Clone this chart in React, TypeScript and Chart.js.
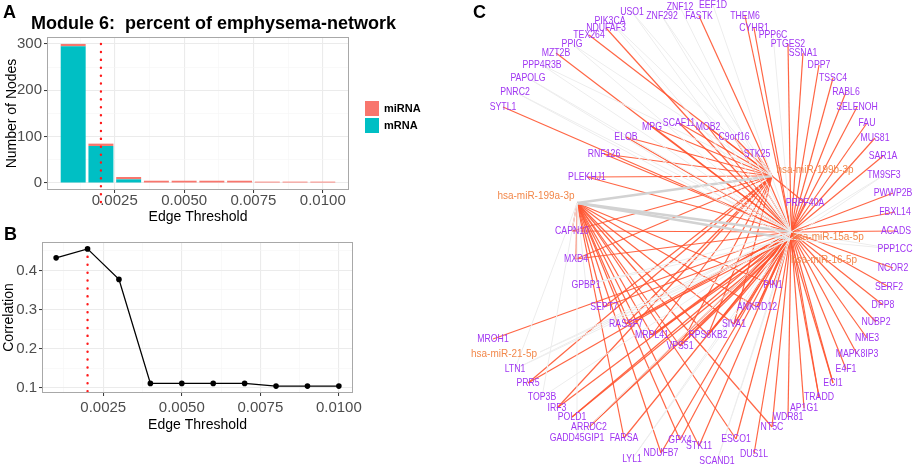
import React, { useEffect, useRef } from 'react';
import { Chart, registerables } from 'chart.js';
Chart.register(...registerables);

const FONT = "'Liberation Sans', Arial, Helvetica, sans-serif";

// ---------- Panels A & B data ----------
const thresholds = [0.001, 0.002, 0.003, 0.004, 0.005, 0.006, 0.007, 0.008, 0.009, 0.01];
const mRNANodes = [295, 80, 8, 0, 0, 0, 0, 0, 0, 0];
const miRNANodes = [5, 5, 5, 5, 5, 5, 5, 3, 3, 3];
const correlation = [0.432, 0.455, 0.377, 0.111, 0.111, 0.111, 0.111, 0.104, 0.104, 0.104];
const chosenThreshold = 0.002;
const titleText = 'Module 6:  percent of emphysema-network';
const xMajorTicks = [0.0025, 0.005, 0.0075, 0.01];
const xTickLabels = ['0.0025', '0.0050', '0.0075', '0.0100'];
const xMinorTicks = [0.00125, 0.00375, 0.00625, 0.00875];
const nodesMajorTicks = [0, 100, 200, 300];
const nodesMinorTicks = [50, 150, 250];
const corrMajorTicks = [0.1, 0.2, 0.3, 0.4];
const corrMinorTicks = [0.15, 0.25, 0.35, 0.45];

// ---------- Panel C network data (layout coordinates) ----------
const geneNames = ['SYTL1','PNRC2','PAPOLG','PPP4R3B','MZT2B','PPIG','TEX264','NDUFAF3','PIK3CA','USO1','ZNF292','ZNF12','EEF1D','FASTK','THEM6','CYHR1','PPP6C','PTGES2','SSNA1','DPP7','TSSC4','RABL6','SELENOH','FAU','MUS81','SAR1A','TM9SF3','PWWP2B','FBXL14','ACADS','PPP1CC','NCOR2','SERF2','DPP8','NUBP2','NME3','MAPK8IP3','E4F1','ECI1','TRADD','AP1G1','WDR81','NT5C','DUS1L','ESCO1','SCAND1','STK11','GPX4','NDUFB7','LYL1','FARSA','GADD45GIP1','ARRDC2','POLD1','IRF3','TOP3B','PRR5','LTN1','MROH1','MPG','SCAF11','MOB2','ELOB','C9orf16','RNF126','STK25','PLEKHJ1','PRPF40A','CAPN10','MXD4','GPBP1','PIN1','SEPT7','ANKRD12','RASSF7','SIVA1','MRPL41','RPS6KB2','VPS51'];
const geneX = [63,75,88,102,116,132,149,166,170,192,222,240,273,259,305,314,333,348,363,379,393,406,417,427,435,443,444,453,455,456,455,453,449,443,436,427,417,406,393,379,364,348,332,314,296,277,259,240,221,192,184,137,149,132,117,102,88,75,53,212,239,268,186,294,164,317,147,365,132,136,146,333,164,317,186,294,212,268,240];
const geneY = [107,92,78,65,53,44,35,28,21,12,16,7,5,16,16,28,35,44,53,65,78,92,107,123,138,156,175,193,212,231,249,268,287,305,322,338,354,369,383,397,408,417,427,454,439,461,446,440,453,459,438,438,427,417,408,397,383,369,339,127,123,127,137,137,154,154,177,203,231,259,285,285,307,307,324,324,335,335,346];
const hubNames = ['hsa-miR-15a-5p', 'hsa-miR-16-5p', 'hsa-miR-199b-3p', 'hsa-miR-199a-3p', 'hsa-miR-21-5p'];
const hubX = [351, 350, 332, 137, 100];
const hubY = [232, 239, 176, 203, 352];
const hubLabelX = [388, 384, 375, 96, 64];
const hubLabelY = [237, 260, 170, 196, 354];

const miR15aTargets = ['SYTL1','MZT2B','NDUFAF3','THEM6','CYHR1','PTGES2','SSNA1','DPP7','TSSC4','RABL6','SELENOH','FAU','MUS81','SAR1A','PWWP2B','FBXL14','ACADS','NCOR2','SERF2','DPP8','NUBP2','NME3','MAPK8IP3','E4F1','ECI1','TRADD','AP1G1','WDR81','NT5C','DUS1L','ESCO1','STK11','GPX4','NDUFB7','FARSA','ARRDC2','POLD1','IRF3','PRR5','MROH1','MPG','SCAF11','MOB2','ELOB','C9orf16','RNF126','STK25','PLEKHJ1','PRPF40A','CAPN10','MXD4','RASSF7','MRPL41','VPS51','RPS6KB2','SIVA1','ANKRD12','PIN1'];
const miR16Targets = ['SIVA1','RPS6KB2','VPS51','MRPL41','RASSF7','ANKRD12','PIN1','SEPT7','ARRDC2','POLD1','TRADD','ECI1'];
const miR199bTargets = ['FASTK','TEX264','MPG','SCAF11','MOB2','ELOB','C9orf16','RNF126','STK25','PLEKHJ1','PRPF40A','MXD4','SEPT7','RASSF7','MRPL41','VPS51','RPS6KB2','SIVA1','CAPN10','PRR5','IRF3'];
const miR199aTargets = ['MXD4','CAPN10','SEPT7','RASSF7','MRPL41','VPS51','RPS6KB2','SIVA1','ANKRD12','PIN1','GPX4','STK11','NDUFB7','FARSA','ESCO1','NT5C'];
const weak15aTargets = ['PNRC2','PAPOLG','PPP4R3B','PPIG','PIK3CA','USO1','ZNF292','ZNF12','EEF1D','PPP6C','TM9SF3','PPP1CC','SCAND1','LYL1','GADD45GIP1','TOP3B','LTN1','GPBP1','hsa-miR-21-5p'];
const weak16Targets = ['PNRC2','PAPOLG','TM9SF3','PPP1CC','SCAND1','LYL1','LTN1','GPBP1','hsa-miR-21-5p'];
const weak199bTargets = ['USO1','ZNF292','PIK3CA','PPIG','PPP4R3B'];
const weak199aTargets = ['GPBP1','LTN1','TOP3B','GADD45GIP1'];
const hubLinks = [['hsa-miR-199a-3p', 'hsa-miR-199b-3p'], ['hsa-miR-199a-3p', 'hsa-miR-15a-5p'], ['hsa-miR-199a-3p', 'hsa-miR-16-5p']];

// ---------- helpers ----------
const near = (list: number[], v: number) => list.some((m) => Math.abs(m - v) < 1e-9);

function gridOpts(majors: number[]) {
  return {
    offset: false,
    color: (c: any) => (c.tick && near(majors, c.tick.value) ? '#ebebeb' : '#f5f5f5'),
    lineWidth: (c: any) => (c.tick && near(majors, c.tick.value) ? 1.1 : 0.6),
    tickColor: (c: any) => (c.tick && near(majors, c.tick.value) ? '#333333' : 'rgba(0,0,0,0)'),
    tickLength: 3,
    tickWidth: 1,
    drawTicks: true,
  };
}

const framePlugin = {
  id: 'frame',
  afterDraw(chart: any) {
    const { ctx, chartArea: a } = chart;
    ctx.save();
    ctx.strokeStyle = '#a8a8a8';
    ctx.lineWidth = 1;
    ctx.strokeRect(a.left + 0.5, a.top + 0.5, a.right - a.left - 1, a.bottom - a.top - 1);
    ctx.restore();
  },
};

function drawRedDots(ctx: any, x: number, y0: number, y1: number) {
  ctx.save();
  ctx.strokeStyle = '#ff1a1a';
  ctx.lineWidth = 2.4;
  ctx.lineCap = 'round';
  ctx.setLineDash([0.1, 7.8]);
  ctx.beginPath();
  ctx.moveTo(x, y0);
  ctx.lineTo(x, y1);
  ctx.stroke();
  ctx.restore();
}

const redLineA = {
  id: 'redLineA',
  afterDatasetsDraw(chart: any) {
    const x = chart.scales.x.getPixelForValue(chosenThreshold);
    drawRedDots(chart.ctx, x, chart.chartArea.top + 7, chart.chartArea.bottom + 14);
  },
};

const redLineB = {
  id: 'redLineB',
  beforeDatasetsDraw(chart: any) {
    const idx = thresholds.findIndex((t) => Math.abs(t - chosenThreshold) < 1e-9);
    const x = chart.scales.x.getPixelForValue(chosenThreshold);
    const y = chart.scales.y.getPixelForValue(correlation[idx]);
    drawRedDots(chart.ctx, x, y, chart.chartArea.bottom);
  },
};

const panelAText = {
  id: 'panelAText',
  afterDraw(chart: any) {
    const ctx = chart.ctx;
    ctx.save();
    ctx.fillStyle = '#000';
    ctx.font = `bold 18px ${FONT}`;
    ctx.textAlign = 'center';
    ctx.textBaseline = 'alphabetic';
    ctx.fillText(titleText, 213.5, 29);
    const items = [...chart.data.datasets].reverse();
    const lx = chart.chartArea.right + 16;
    items.forEach((ds: any, i: number) => {
      ctx.fillStyle = ds.backgroundColor;
      ctx.fillRect(lx, 101 + i * 17, 14, 15);
      ctx.fillStyle = '#000';
      ctx.font = `bold 11px ${FONT}`;
      ctx.textAlign = 'left';
      ctx.textBaseline = 'middle';
      ctx.fillText(ds.label, lx + 19, 109 + i * 17);
    });
    ctx.restore();
  },
};

function squeezedText(ctx: any, text: string, x: number, y: number, sx: number) {
  ctx.save();
  ctx.translate(x, y);
  ctx.scale(sx, 1);
  ctx.fillText(text, 0, 0);
  ctx.restore();
}

const networkLabels = {
  id: 'networkLabels',
  afterDatasetsDraw(chart: any) {
    const { ctx, scales } = chart;
    ctx.save();
    ctx.textAlign = 'center';
    ctx.textBaseline = 'middle';
    ctx.font = `10.5px ${FONT}`;
    ctx.fillStyle = '#a035f2';
    geneNames.forEach((n, i) => {
      squeezedText(ctx, n, scales.x.getPixelForValue(geneX[i]), scales.y.getPixelForValue(geneY[i]), 0.83);
    });
    ctx.font = `10.5px ${FONT}`;
    ctx.fillStyle = '#f2884b';
    hubNames.forEach((n, i) => {
      squeezedText(ctx, n, scales.x.getPixelForValue(hubLabelX[i]), scales.y.getPixelForValue(hubLabelY[i]), 0.95);
    });
    ctx.restore();
  },
};

function nodePos(name: string) {
  const gi = geneNames.indexOf(name);
  if (gi >= 0) return { x: geneX[gi], y: geneY[gi] };
  const hi = hubNames.indexOf(name);
  return { x: hubX[hi], y: hubY[hi] };
}

function edge(a: string, b: string, color: string, width: number) {
  return {
    type: 'scatter',
    data: [nodePos(a), nodePos(b)],
    showLine: true,
    borderColor: color,
    borderWidth: width,
    pointRadius: 0,
    pointHoverRadius: 0,
    fill: false,
  };
}

export default function App() {
  const refA = useRef<HTMLCanvasElement>(null);
  const refB = useRef<HTMLCanvasElement>(null);
  const refC = useRef<HTMLCanvasElement>(null);

  useEffect(() => {
    const tickFont = { family: FONT, size: 15, lineHeight: 1 };
    const titleFont = { family: FONT, size: 14 };

    const chartA = new Chart(refA.current!, {
      type: 'bar',
      data: {
        datasets: [
          { label: 'mRNA', data: thresholds.map((t, i) => ({ x: t, y: mRNANodes[i] })), backgroundColor: '#00BFC4', barPercentage: 0.9, categoryPercentage: 1, borderWidth: 0 },
          { label: 'miRNA', data: thresholds.map((t, i) => ({ x: t, y: miRNANodes[i] })), backgroundColor: '#F8766D', barPercentage: 0.9, categoryPercentage: 1, borderWidth: 0 },
        ],
      } as any,
      options: {
        responsive: false,
        animation: false,
        devicePixelRatio: 1,
        events: [],
        layout: { padding: { top: 37, right: 78, left: 0, bottom: 0 } },
        plugins: { legend: { display: false }, tooltip: { enabled: false } },
        scales: {
          x: {
            type: 'linear', min: 0.0000555, max: 0.010945, stacked: true, offset: false,
            afterBuildTicks: (s: any) => { s.ticks = [...xMinorTicks, ...xMajorTicks].sort((a, b) => a - b).map((v) => ({ value: v })); },
            afterFit: (s: any) => { s.height = 42; },
            grid: gridOpts(xMajorTicks),
            border: { display: false },
            ticks: { autoSkip: false, maxRotation: 0, padding: 0, color: '#4d4d4d', font: tickFont, callback: (v: any) => { const i = xMajorTicks.findIndex((m) => Math.abs(m - v) < 1e-9); return i >= 0 ? xTickLabels[i] : ''; } },
            title: { display: true, text: 'Edge Threshold', color: '#000', font: titleFont, padding: { top: 0, bottom: 6.6 } },
          },
          y: {
            type: 'linear', min: -15, max: 315, stacked: true,
            afterBuildTicks: (s: any) => { s.ticks = [...nodesMajorTicks, ...nodesMinorTicks].sort((a, b) => a - b).map((v) => ({ value: v })); },
            afterFit: (s: any) => { s.width = 47; },
            grid: gridOpts(nodesMajorTicks),
            border: { display: false },
            ticks: { autoSkip: false, padding: 2, color: '#4d4d4d', font: tickFont, callback: (v: any) => (near(nodesMajorTicks, v) ? String(v) : '') },
            title: { display: true, text: 'Number of Nodes', color: '#000', font: titleFont, padding: { top: 3.6, bottom: 0 } },
          },
        },
      } as any,
      plugins: [framePlugin, redLineA, panelAText],
    });

    const chartB = new Chart(refB.current!, {
      type: 'line',
      data: {
        datasets: [
          { label: 'Correlation', data: thresholds.map((t, i) => ({ x: t, y: correlation[i] })), borderColor: '#000', borderWidth: 1.3, pointRadius: 2.8, pointBackgroundColor: '#000', pointBorderWidth: 0, tension: 0, fill: false },
        ],
      } as any,
      options: {
        responsive: false,
        animation: false,
        devicePixelRatio: 1,
        events: [],
        layout: { padding: { top: 20, right: 74, left: 0, bottom: 0 } },
        plugins: { legend: { display: false }, tooltip: { enabled: false } },
        scales: {
          x: {
            type: 'linear', min: 0.00055, max: 0.01045, offset: false,
            afterBuildTicks: (s: any) => { s.ticks = [...xMinorTicks, ...xMajorTicks].sort((a, b) => a - b).map((v) => ({ value: v })); },
            afterFit: (s: any) => { s.height = 73; },
            grid: gridOpts(xMajorTicks),
            border: { display: false },
            ticks: { autoSkip: false, maxRotation: 0, padding: 4, color: '#4d4d4d', font: tickFont, callback: (v: any) => { const i = xMajorTicks.findIndex((m) => Math.abs(m - v) < 1e-9); return i >= 0 ? xTickLabels[i] : ''; } },
            title: { display: true, text: 'Edge Threshold', color: '#000', font: titleFont, padding: { top: 0, bottom: 32.6 } },
          },
          y: {
            type: 'linear', min: 0.0864, max: 0.4726,
            afterBuildTicks: (s: any) => { s.ticks = [...corrMajorTicks, ...corrMinorTicks].sort((a, b) => a - b).map((v) => ({ value: v })); },
            afterFit: (s: any) => { s.width = 42; },
            grid: gridOpts(corrMajorTicks),
            border: { display: false },
            ticks: { autoSkip: false, padding: 2, color: '#4d4d4d', font: tickFont, callback: (v: any) => (near(corrMajorTicks, v) ? Number(v).toFixed(1) : '') },
            title: { display: true, text: 'Correlation', color: '#000', font: titleFont, padding: { top: 0.6, bottom: 0 } },
          },
        },
      } as any,
      plugins: [framePlugin, redLineB],
    });

    const strong = 'rgba(255,84,48,0.9)';
    const weak = '#ededed';
    const datasets: any[] = [];
    weak15aTargets.forEach((g) => datasets.push(edge(g, 'hsa-miR-15a-5p', weak, 1)));
    weak16Targets.forEach((g) => datasets.push(edge(g, 'hsa-miR-16-5p', weak, 1)));
    weak199bTargets.forEach((g) => datasets.push(edge(g, 'hsa-miR-199b-3p', weak, 1)));
    weak199aTargets.forEach((g) => datasets.push(edge(g, 'hsa-miR-199a-3p', weak, 1)));
    hubLinks.forEach(([a, b]) => datasets.push(edge(a, b, '#d2d2d2', 2.4)));
    miR199aTargets.forEach((g) => datasets.push(edge(g, 'hsa-miR-199a-3p', strong, 1.2)));
    miR199bTargets.forEach((g) => datasets.push(edge(g, 'hsa-miR-199b-3p', strong, 1.2)));
    miR16Targets.forEach((g) => datasets.push(edge(g, 'hsa-miR-16-5p', strong, 1.2)));
    miR15aTargets.forEach((g) => datasets.push(edge(g, 'hsa-miR-15a-5p', strong, 1.2)));

    const chartC = new Chart(refC.current!, {
      type: 'scatter',
      data: { datasets } as any,
      options: {
        responsive: false,
        animation: false,
        devicePixelRatio: 1,
        events: [],
        layout: { padding: 0 },
        plugins: { legend: { display: false }, tooltip: { enabled: false } },
        scales: {
          x: { type: 'linear', min: 0, max: 473, display: false },
          y: { type: 'linear', min: 0, max: 466, reverse: true, display: false },
        },
      } as any,
      plugins: [networkLabels],
    });

    return () => {
      chartA.destroy();
      chartB.destroy();
      chartC.destroy();
    };
  }, []);

  const letter: React.CSSProperties = { position: 'absolute', font: `bold 18px ${FONT}`, lineHeight: '18px', color: '#000', margin: 0 };

  return (
    <div style={{ position: 'absolute', left: 0, top: 0, width: 913, height: 466, background: '#fff', overflow: 'hidden' }}>
      <canvas ref={refA} width={427} height={232} style={{ position: 'absolute', left: 0, top: 0, width: 427, height: 232 }} />
      <canvas ref={refB} width={427} height={244} style={{ position: 'absolute', left: 0, top: 222, width: 427, height: 244 }} />
      <canvas ref={refC} width={473} height={466} style={{ position: 'absolute', left: 440, top: 0, width: 473, height: 466 }} />
      <div style={{ ...letter, left: 3, top: 3 }}>A</div>
      <div style={{ ...letter, left: 4, top: 225 }}>B</div>
      <div style={{ ...letter, left: 473, top: 3 }}>C</div>
    </div>
  );
}
